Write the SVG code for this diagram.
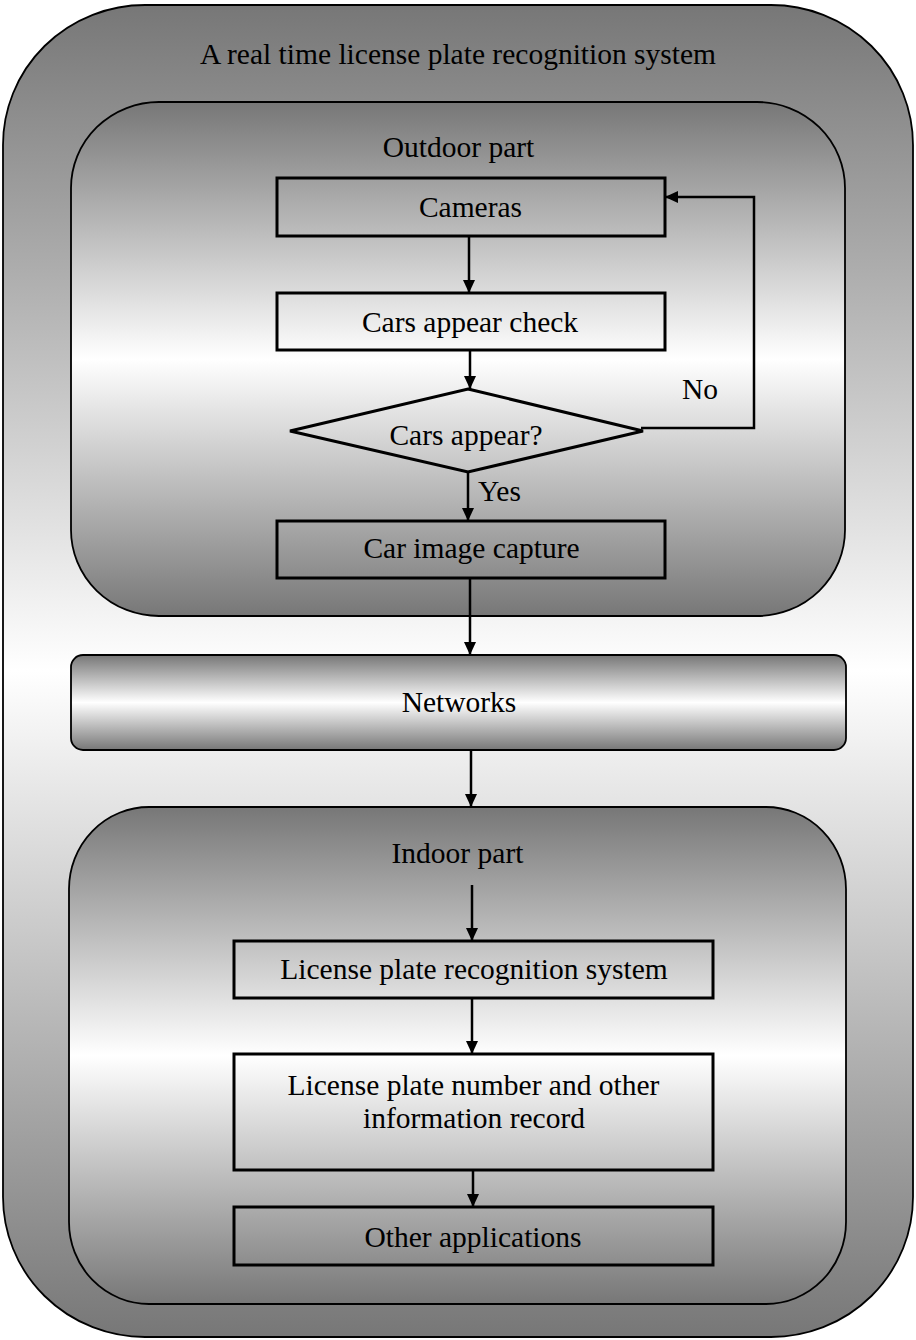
<svg xmlns="http://www.w3.org/2000/svg" width="916" height="1340" viewBox="0 0 916 1340">
<defs>
<linearGradient id="g" x1="0" y1="0" x2="0" y2="1">
<stop offset="0" stop-color="#777777"/>
<stop offset="0.5" stop-color="#ffffff"/>
<stop offset="1" stop-color="#777777"/>
</linearGradient>
<marker id="ah" markerUnits="userSpaceOnUse" markerWidth="14" markerHeight="14" viewBox="0 0 14 14" refX="13" refY="7" orient="auto">
<path d="M0,1 L13,7 L0,13 Z" fill="#000"/>
</marker>
<style>
.cont{fill:url(#g);stroke:#000;stroke-width:1.8}
.box{fill:none;stroke:#000;stroke-width:3}
.t{font-family:"Liberation Serif","Times New Roman",serif;font-size:29.5px;fill:#000;text-anchor:middle}
.c{fill:none;stroke:#000;stroke-width:2.5}
</style>
</defs>
<g id="system">
<rect class="cont" x="3" y="5" width="910" height="1332" rx="142" ry="140"/>
<text class="t" x="458" y="64">A real time license plate recognition system</text>
</g>
<g id="outdoor">
<rect class="cont" x="71" y="102" width="774" height="514" rx="88" ry="86"/>
<text class="t" x="458.5" y="157">Outdoor part</text>
</g>
<g id="networks">
<rect class="cont" x="71" y="655" width="775" height="95" rx="12" ry="12"/>
<text class="t" x="459" y="712">Networks</text>
</g>
<g id="indoor">
<rect class="cont" x="69" y="807" width="777" height="497" rx="80" ry="82"/>
<text class="t" x="457.5" y="863">Indoor part</text>
</g>
<g id="cameras">
<rect class="box" x="277" y="178" width="388" height="58"/>
<text class="t" x="470.5" y="217">Cameras</text>
</g>
<g id="check">
<rect class="box" x="277" y="293" width="388" height="57"/>
<text class="t" x="470" y="332">Cars appear check</text>
</g>
<g id="decision">
<polygon points="468,389 643,431 468,472 290,431" fill="none" stroke="#000" stroke-width="3"/>
<text class="t" x="466" y="445">Cars appear?</text>
</g>
<g id="capture">
<rect class="box" x="277" y="521" width="388" height="57"/>
<text class="t" x="471.5" y="558">Car image capture</text>
</g>
<g id="lpr">
<rect class="box" x="234" y="941" width="479" height="57"/>
<text class="t" x="474" y="979">License plate recognition system</text>
</g>
<g id="record">
<rect class="box" x="234" y="1054" width="479" height="116"/>
<text class="t" x="473.5" y="1095">License plate number and other</text>
<text class="t" x="474" y="1128">information record</text>
</g>
<g id="other">
<rect class="box" x="234" y="1207" width="479" height="58"/>
<text class="t" x="473" y="1247">Other applications</text>
</g>
<g id="connectors">
<line class="c" x1="469" y1="236" x2="469" y2="293" marker-end="url(#ah)"/>
<line class="c" x1="470" y1="350" x2="470" y2="389" marker-end="url(#ah)"/>
<line class="c" x1="468" y1="472" x2="468" y2="521" marker-end="url(#ah)"/>
<polyline class="c" points="641,428 754,428 754,197 665,197" marker-end="url(#ah)"/>
<line class="c" x1="470" y1="578" x2="470" y2="655" marker-end="url(#ah)"/>
<line class="c" x1="471" y1="750" x2="471" y2="807" marker-end="url(#ah)"/>
<line class="c" x1="472" y1="885" x2="472" y2="941" marker-end="url(#ah)"/>
<line class="c" x1="472" y1="998" x2="472" y2="1054" marker-end="url(#ah)"/>
<line class="c" x1="473" y1="1170" x2="473" y2="1207" marker-end="url(#ah)"/>
<text class="t" x="700" y="399">No</text>
<text class="t" x="478" y="501" style="text-anchor:start">Yes</text>
</g>
</svg>
